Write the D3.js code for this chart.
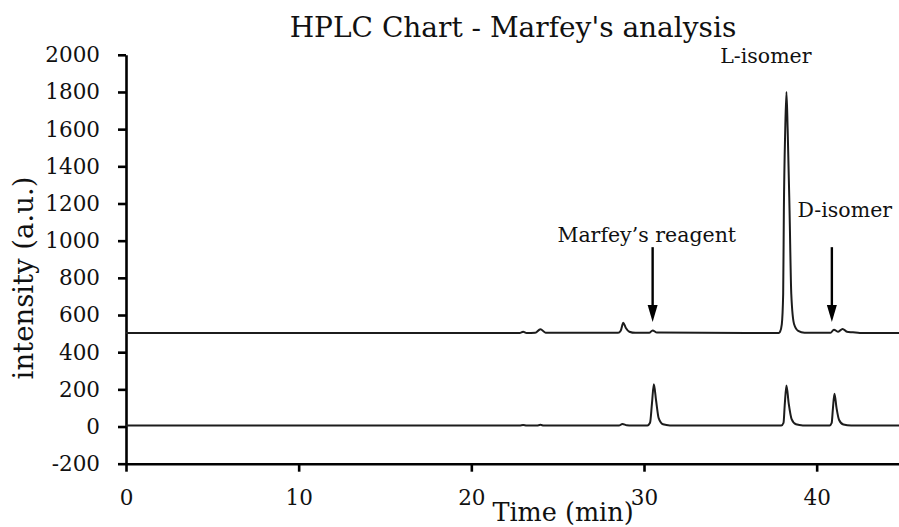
<!DOCTYPE html>
<html>
<head>
<meta charset="utf-8">
<script src="https://cdn.jsdelivr.net/npm/d3@7"></script>
<style>
  body { margin: 0; background: #fff; }
  text { font-family: "DejaVu Serif", serif; fill: #111; }
</style>
</head>
<body>
<svg id="chart" width="899" height="527"></svg>
<script>
// chromatogram traces: [time (min), intensity]
var traceTop = [
  [0,503],[22.8,503],[23.0,510],[23.2,503],[23.7,504],[24.0,524],[24.3,505],
  [28.5,504],[28.65,515],[28.8,558],[28.95,530],[29.15,510],[29.5,504],
  [30.3,504],[30.5,517],[30.75,506],
  [37.8,503],[37.88,510],[37.98,550],[38.06,713],[38.1,1160],[38.18,1600],[38.25,1800],
  [38.32,1600],[38.43,1160],[38.53,713],[38.69,552],[38.93,515],[39.3,505],
  [40.8,504],[41.0,521],[41.25,510],[41.5,525],[41.75,510],[42.1,507],[42.5,503],[45,503]
];
var traceBottom = [
  [0,5],[22.8,5],[23.0,8],[23.2,5],[23.8,5],[24.0,9],[24.2,5],
  [28.55,5],[28.75,14],[29.0,7],[29.3,5],
  [30.2,6],[30.35,20],[30.46,123],[30.57,227],[30.7,140],[30.85,45],[31.1,12],[31.5,6],
  [37.95,6],[38.08,20],[38.15,115],[38.25,221],[38.38,125],[38.55,40],[38.8,12],[39.2,6],
  [40.75,6],[40.87,20],[40.94,95],[41.03,177],[41.15,100],[41.3,35],[41.55,11],[42,6],[45,5]
];

var xTicks = [0, 10, 20, 30, 40];
var yTicks = [-200, 0, 200, 400, 600, 800, 1000, 1200, 1400, 1600, 1800, 2000];

// annotation text and arrows (time, intensity)
var peakLabels = [
  {text: "L-isomer", t: 37.06, v: 1955},
  {text: "D-isomer", t: 41.63, v: 1127},
  {text: "Marfey\u2019s reagent", t: 30.16, v: 992}
];
var arrows = [
  {t: 30.5, from: 965, to: 562},
  {t: 40.88, from: 965, to: 562}
];

var svg = d3.select("#chart");

var x = d3.scaleLinear().domain([0, 45]).range([126, 903]);
var y = d3.scaleLinear().domain([-200, 2000]).range([463.7, 54.8]);

// title
svg.append("text")
  .attr("x", 513).attr("y", 37)
  .attr("text-anchor", "middle")
  .style("font-size", "28px")
  .text("HPLC Chart - Marfey's analysis");

// axes (plain hyphen for negatives, no thousands separator)
var plain = function(d){ return String(d); };

var yAxis = svg.append("g")
  .attr("transform", "translate(126,0)")
  .call(d3.axisLeft(y).tickValues(yTicks).tickFormat(plain).tickSize(8).tickSizeOuter(0).tickPadding(18));

var xAxis = svg.append("g")
  .attr("transform", "translate(0,463.7)")
  .call(d3.axisBottom(x).tickValues(xTicks).tickFormat(plain).tickSize(8).tickSizeOuter(0));

[yAxis, xAxis].forEach(function(g){
  g.select(".domain").attr("stroke", "#000").attr("stroke-width", 2.6);
  g.selectAll(".tick line").attr("stroke", "#000").attr("stroke-width", 2.6);
  g.selectAll(".tick text")
    .style("font-family", "DejaVu Serif, serif")
    .style("font-size", "21.5px")
    .attr("fill", "#111");
});
xAxis.selectAll(".tick text").attr("y", 41).attr("dy", 0);

// axis titles
svg.append("text")
  .attr("x", 563).attr("y", 521)
  .attr("text-anchor", "middle")
  .style("font-size", "25.5px")
  .text("Time (min)");

svg.append("text")
  .attr("transform", "translate(33,278) rotate(-90)")
  .attr("text-anchor", "middle")
  .style("font-size", "27.5px")
  .text("intensity (a.u.)");

// traces
var line = d3.line()
  .x(function(d){ return x(d[0]); })
  .y(function(d){ return y(d[1]); })
  .curve(d3.curveMonotoneX);

[traceTop, traceBottom].forEach(function(tr){
  svg.append("path")
    .datum(tr)
    .attr("d", line)
    .attr("fill", "none")
    .attr("stroke", "#1c1c1c")
    .attr("stroke-width", 2)
    .attr("stroke-linejoin", "round");
});

// peak labels
svg.selectAll(".peakLabel")
  .data(peakLabels)
  .enter()
  .append("text")
  .attr("class", "peakLabel")
  .attr("x", function(d){ return x(d.t); })
  .attr("y", function(d){ return y(d.v); })
  .attr("text-anchor", "middle")
  .style("font-size", "20.5px")
  .text(function(d){ return d.text; });

// arrows: shaft then filled head
svg.selectAll(".arrow")
  .data(arrows)
  .enter()
  .append("line")
  .attr("class", "arrow")
  .attr("x1", function(d){ return x(d.t); })
  .attr("x2", function(d){ return x(d.t); })
  .attr("y1", function(d){ return y(d.from); })
  .attr("y2", function(d){ return y(d.to) - 16; })
  .attr("stroke", "#000")
  .attr("stroke-width", 2.4);

svg.selectAll(".arrowHead")
  .data(arrows)
  .enter()
  .append("path")
  .attr("class", "arrowHead")
  .attr("d", function(d){
    var xx = x(d.t), yy = y(d.to);
    return "M" + (xx - 5) + "," + (yy - 17) + " L" + (xx + 5) + "," + (yy - 17) + " L" + xx + "," + yy + " Z";
  })
  .attr("fill", "#000");
</script>
</body>
</html>
